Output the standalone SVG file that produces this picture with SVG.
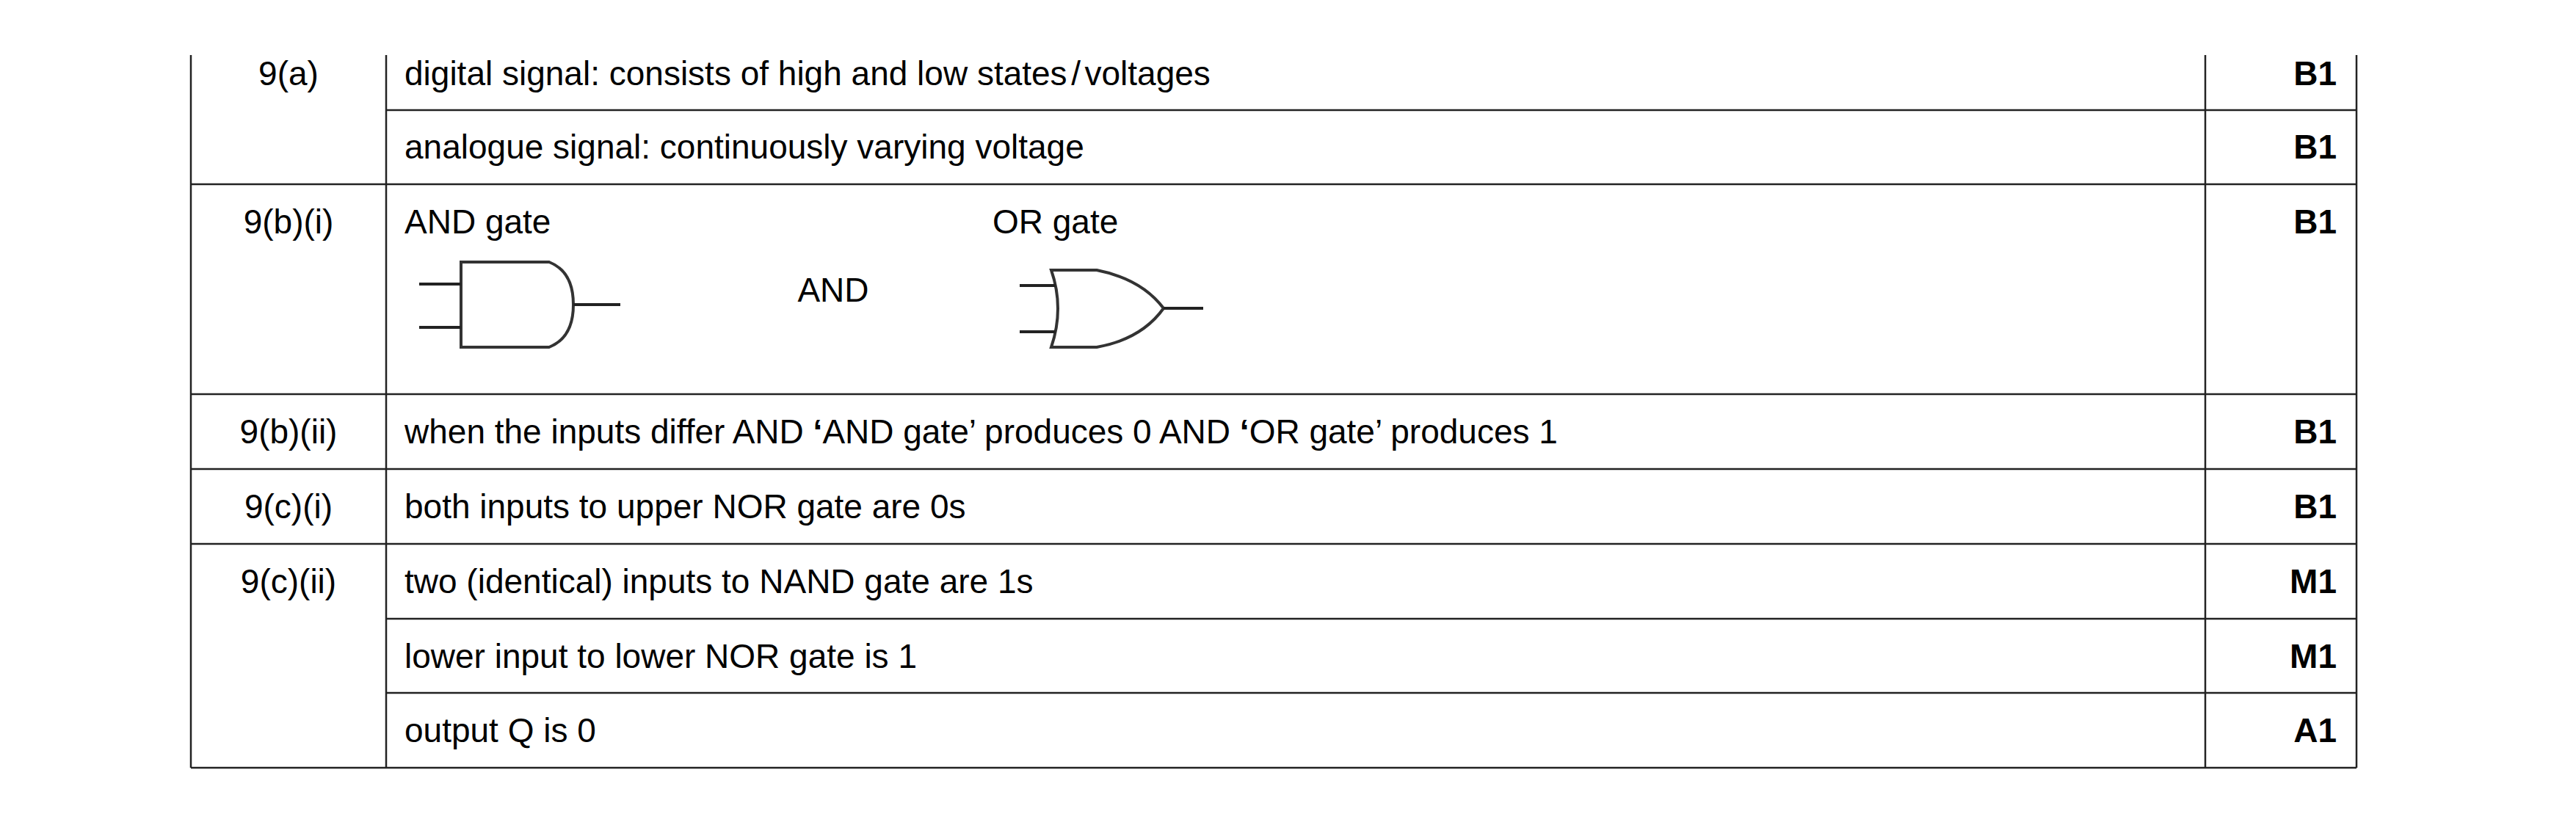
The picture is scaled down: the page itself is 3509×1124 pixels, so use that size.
<svg xmlns="http://www.w3.org/2000/svg" width="3509" height="1124" viewBox="0 0 3509 1124">
<style>
.t{font-family:"Liberation Sans",Arial,sans-serif;font-size:46px;fill:#000}
.c{text-anchor:middle}
.m{font-weight:bold;text-anchor:end}
.g{fill:none;stroke:#333;stroke-width:4}
.gl{fill:none;stroke:#222;stroke-width:4}
</style>
<rect width="3509" height="1124" fill="#fff"/>
<g id="grid" stroke="#222" stroke-width="2.5" fill="none">
<path d="M260 75V1046M526 75V1046M3004 75V1046M3210 75V1046"/>
<path d="M526 150H3210M260 251H3210M260 537H3210M260 639H3210M260 741H3210M526 843H3210M526 944H3210M260 1046H3210"/>
</g>
<g id="labels">
<text class="t c" x="393" y="116">9(a)</text>
<text class="t c" x="393" y="318">9(b)(i)</text>
<text class="t c" x="393" y="604">9(b)(ii)</text>
<text class="t c" x="393" y="706">9(c)(i)</text>
<text class="t c" x="393" y="808">9(c)(ii)</text>
</g>
<g id="answers">
<text class="t" x="551" y="116">digital signal: consists of high and low states<tspan font-size="20"> </tspan>/<tspan font-size="20"> </tspan>voltages</text>
<text class="t" x="551" y="216">analogue signal: continuously varying voltage</text>
<text class="t" x="551" y="318">AND gate</text>
<text class="t" x="1352" y="318">OR gate</text>
<text class="t c" x="1135" y="411">AND</text>
<text class="t" x="551" y="604">when the inputs differ AND <tspan font-weight="bold">‘</tspan>AND gate’ produces 0 AND <tspan font-weight="bold">‘</tspan>OR gate’ produces 1</text>
<text class="t" x="551" y="706">both inputs to upper NOR gate are 0s</text>
<text class="t" x="551" y="808">two (identical) inputs to NAND gate are 1s</text>
<text class="t" x="551" y="910">lower input to lower NOR gate is 1</text>
<text class="t" x="551" y="1011">output Q is 0</text>
</g>
<g id="marks">
<text class="t m" x="3183" y="116">B1</text>
<text class="t m" x="3183" y="216">B1</text>
<text class="t m" x="3183" y="318">B1</text>
<text class="t m" x="3183" y="604">B1</text>
<text class="t m" x="3183" y="706">B1</text>
<text class="t m" x="3183" y="808">M1</text>
<text class="t m" x="3183" y="910">M1</text>
<text class="t m" x="3183" y="1011">A1</text>
</g>
<g id="and-gate">
<path class="g" d="M628 357H748Q781 370 781 415Q781 460 748 473H628Z"/>
<path class="gl" d="M571 387H628M571 446H628M781 415H845"/>
</g>
<g id="or-gate">
<path class="g" d="M1432 368H1494Q1555 380 1585 420Q1555 462 1494 473H1432Q1450 420 1432 368Z"/>
<path class="gl" d="M1389 389H1438M1389 452H1438M1585 420H1639"/>
</g>
</svg>
